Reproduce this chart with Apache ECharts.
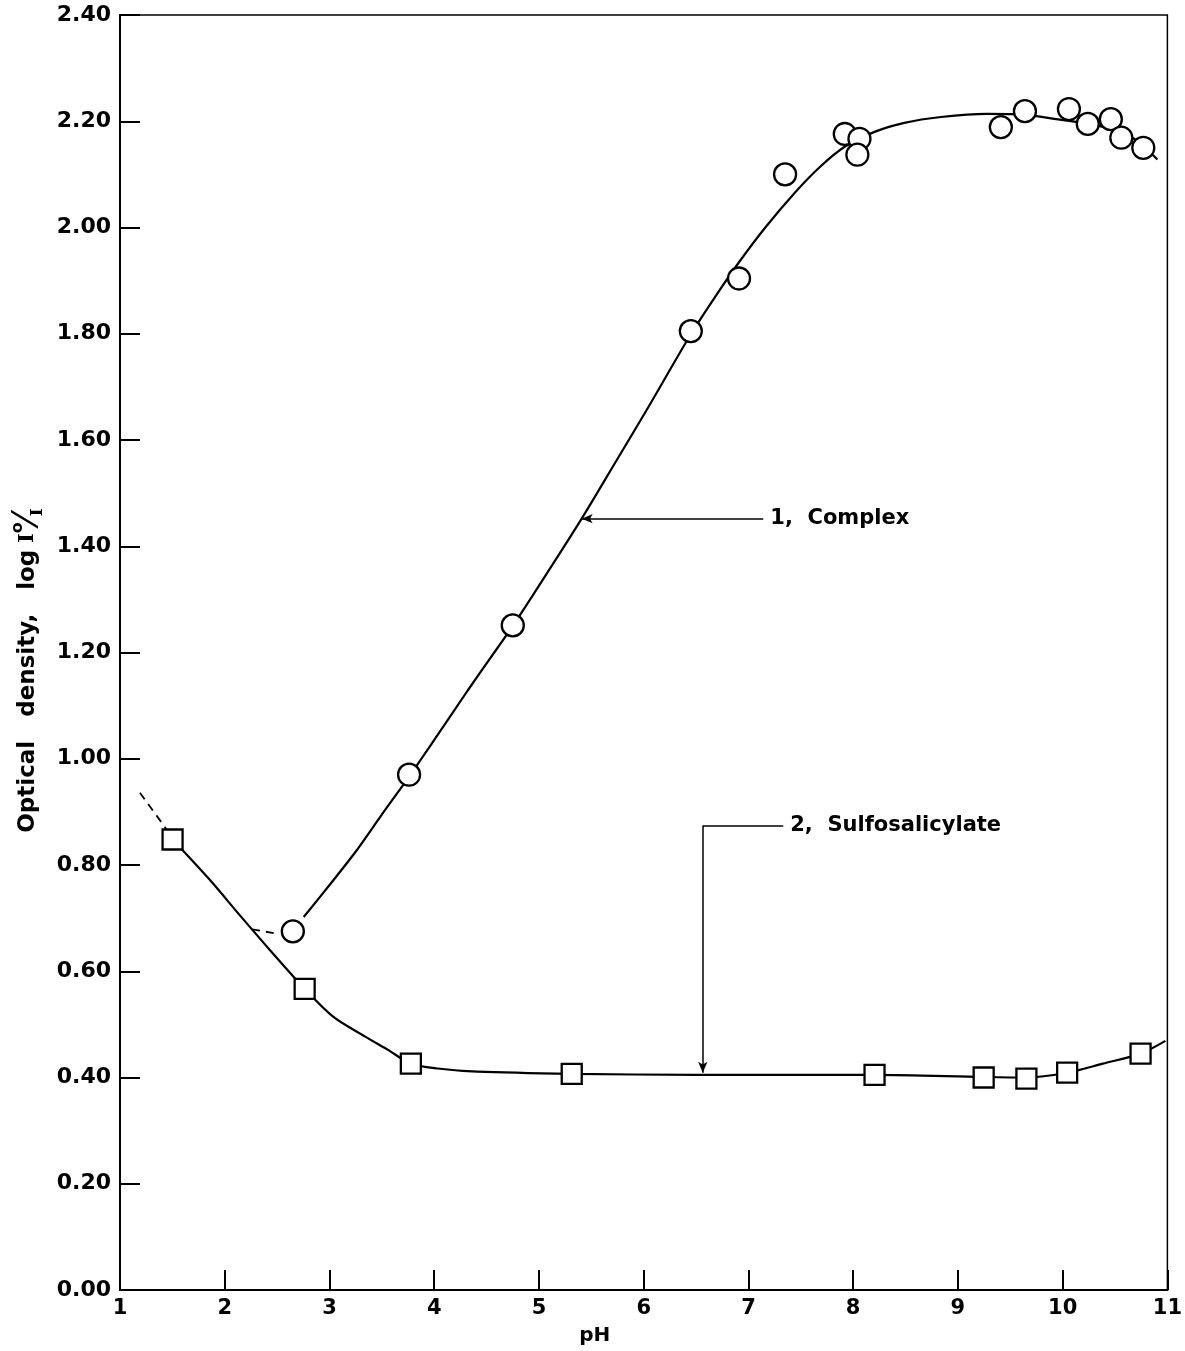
<!DOCTYPE html>
<html>
<head>
<meta charset="utf-8">
<script src="https://cdn.jsdelivr.net/npm/echarts@6/dist/echarts.min.js"></script>
<style>
  html, body { margin: 0; padding: 0; background: #fff; overflow: hidden; }
  #chart { width: 1185px; height: 1351px; }
</style>
</head>
<body>
<div id="chart"></div>
<script>
// pH axis ticks and optical density ticks
const phTicks = [1, 2, 3, 4, 5, 6, 7, 8, 9, 10, 11];
const odTicks = [0, 0.2, 0.4, 0.6, 0.8, 1.0, 1.2, 1.4, 1.6, 1.8, 2.0, 2.2, 2.4];

// Curve 1: complex — measured points (pH, optical density)
const complexPoints = [
  [2.65, 0.675], [3.76, 0.970], [4.75, 1.251], [6.45, 1.805], [6.91, 1.904],
  [7.35, 2.100], [7.92, 2.176], [8.06, 2.167], [8.04, 2.137], [9.41, 2.189],
  [9.64, 2.219], [10.06, 2.223], [10.24, 2.195], [10.46, 2.204], [10.56, 2.169],
  [10.77, 2.150]
];
// Curve 1: hand-drawn fitted curve, read along its length
const complexCurve = [
  [2.754, 0.702], [2.991, 0.760], [3.246, 0.824], [3.493, 0.893], [3.758, 0.966],
  [4.033, 1.045], [4.318, 1.128], [4.602, 1.208], [4.754, 1.251], [5.076, 1.349],
  [5.408, 1.452], [5.739, 1.561], [6.024, 1.655], [6.450, 1.799], [6.687, 1.871],
  [6.915, 1.936], [7.161, 2.000], [7.445, 2.066], [7.682, 2.114], [7.919, 2.152],
  [8.204, 2.180], [8.488, 2.197], [8.839, 2.208], [9.275, 2.214], [9.654, 2.212],
  [9.938, 2.204], [10.194, 2.197], [10.412, 2.188], [10.668, 2.169], [10.905, 2.128]
];
// Curve 1: dashed extension at low pH
const complexDash = [[2.261, 0.679], [2.517, 0.670]];

// Curve 2: sulfosalicylate — measured points
const sulfoPoints = [
  [1.502, 0.848], [2.763, 0.567], [3.777, 0.426], [5.313, 0.407], [8.204, 0.405],
  [9.246, 0.400], [9.654, 0.398], [10.043, 0.409], [10.744, 0.445]
];
// Curve 2: hand-drawn fitted curve, read along its length
const sulfoCurve = [
  [1.502, 0.848], [1.853, 0.773], [2.137, 0.707], [2.422, 0.642], [2.763, 0.567],
  [3.038, 0.514], [3.341, 0.477], [3.559, 0.452], [3.777, 0.426], [4.033, 0.417],
  [4.412, 0.411], [5.313, 0.407], [6.498, 0.405], [8.204, 0.405], [9.246, 0.401],
  [9.654, 0.400], [10.043, 0.409], [10.384, 0.426], [10.744, 0.445], [10.981, 0.469]
];
// Curve 2: dashed extension below pH 1.5
const sulfoDash = [[1.190, 0.936], [1.445, 0.867]];

// Leader lines for the curve captions
const label1 = { text: '1,  Complex', from: [5.408, 1.452], to: [7.142, 1.452] };
const label2 = { text: '2,  Sulfosalicylate', corner: [6.564, 0.874], end: [7.332, 0.874], tip: [6.564, 0.409] };

const chart = echarts.init(document.getElementById('chart'), null, { renderer: 'canvas' });

const SANS = 'DejaVu Sans';
const lineStyle = { color: '#000', width: 2.2 };
const markerStyle = { color: '#fff', borderColor: '#000', borderWidth: 2.3, opacity: 1 };

const option = {
  animation: false,
  backgroundColor: '#fff',
  grid: {
    left: 120, right: 10, top: 15, bottom: 57,
    show: true, borderColor: '#000', borderWidth: 1.5, backgroundColor: 'transparent'
  },
  xAxis: {
    type: 'value', min: phTicks[0], max: phTicks[phTicks.length - 1], interval: 1,
    name: 'pH', nameLocation: 'middle', nameGap: 36,
    nameTextStyle: { fontFamily: SANS, fontWeight: 'bold', fontSize: 20, color: '#000', padding: [0, 98, 0, 0] },
    axisLine: { show: true, lineStyle: { color: '#000', width: 2 } },
    axisTick: { show: true, inside: true, length: 20, lineStyle: { color: '#000', width: 2 } },
    axisLabel: { fontFamily: SANS, fontWeight: 'bold', fontSize: 21, color: '#000', margin: 8 },
    splitLine: { show: false }
  },
  yAxis: {
    type: 'value', min: odTicks[0], max: odTicks[odTicks.length - 1], interval: 0.2,
    name: '{t|Optical   density,   log}  {i|I}{o|o}{s|⁄}{i2|I}',
    nameLocation: 'middle', nameGap: 74, nameRotate: 90,
    nameTextStyle: {
      color: '#000',
      padding: [0, 36, 0, 0],
      rich: {
        t: { fontFamily: SANS, fontWeight: 'bold', fontSize: 23, color: '#000', lineHeight: 36, verticalAlign: 'middle' },
        i: { fontFamily: 'DejaVu Serif', fontWeight: 'bold', fontSize: 21, color: '#000', lineHeight: 36, verticalAlign: 'middle' },
        o: { fontFamily: SANS, fontWeight: 'bold', fontSize: 16, color: '#000', lineHeight: 36, verticalAlign: 'top' },
        s: { fontFamily: SANS, fontSize: 36, color: '#000', lineHeight: 36, verticalAlign: 'middle' },
        i2: { fontFamily: 'DejaVu Serif', fontWeight: 'bold', fontSize: 17, color: '#000', lineHeight: 36, verticalAlign: 'bottom' }
      }
    },
    axisLine: { show: true, lineStyle: { color: '#000', width: 2 } },
    axisTick: { show: true, inside: true, length: 20, lineStyle: { color: '#000', width: 2 } },
    axisLabel: {
      fontFamily: SANS, fontWeight: 'bold', fontSize: 22, color: '#000', margin: 9,
      formatter: v => v.toFixed(2)
    },
    splitLine: { show: false }
  },
  series: [
    {
      name: 'complex curve', type: 'line', data: complexCurve, smooth: 0.3,
      showSymbol: false, lineStyle, z: 2, silent: true
    },
    {
      name: 'complex dashed', type: 'line', data: complexDash, smooth: false,
      showSymbol: false, lineStyle: { color: '#000', width: 1.8, type: [8, 6] }, z: 2, silent: true
    },
    {
      name: 'sulfo curve', type: 'line', data: sulfoCurve, smooth: 0.3,
      showSymbol: false, lineStyle, z: 2, silent: true
    },
    {
      name: 'sulfo dashed', type: 'line', data: sulfoDash, smooth: false,
      showSymbol: false, lineStyle: { color: '#000', width: 1.8, type: [8, 6] }, z: 2, silent: true
    },
    {
      name: '1, Complex', type: 'scatter', data: complexPoints, symbol: 'circle', symbolSize: 22,
      itemStyle: markerStyle, z: 5, silent: true
    },
    {
      name: '2, Sulfosalicylate', type: 'scatter', data: sulfoPoints, symbol: 'rect', symbolSize: 20,
      itemStyle: markerStyle, z: 5, silent: true
    },
    {
      name: 'captions', type: 'line', data: [], silent: true,
      markLine: {
        silent: true, animation: false,
        lineStyle: { color: '#000', width: 1.5, type: 'solid' },
        symbolSize: [7, 11],
        emphasis: { disabled: true },
        label: {
          show: true, position: 'end', distance: 7,
          fontFamily: SANS, fontWeight: 'bold', fontSize: 21, color: '#000'
        },
        data: [
          [
            { coord: label1.from, symbol: 'arrow' },
            { coord: label1.to, symbol: 'none', label: { formatter: label1.text } }
          ],
          [
            { coord: label2.corner, symbol: 'none' },
            { coord: label2.end, symbol: 'none', label: { formatter: label2.text } }
          ],
          [
            { coord: label2.corner, symbol: 'none' },
            { coord: label2.tip, symbol: 'arrow', label: { show: false } }
          ]
        ]
      }
    }
  ]
};

chart.setOption(option);
</script>
</body>
</html>
